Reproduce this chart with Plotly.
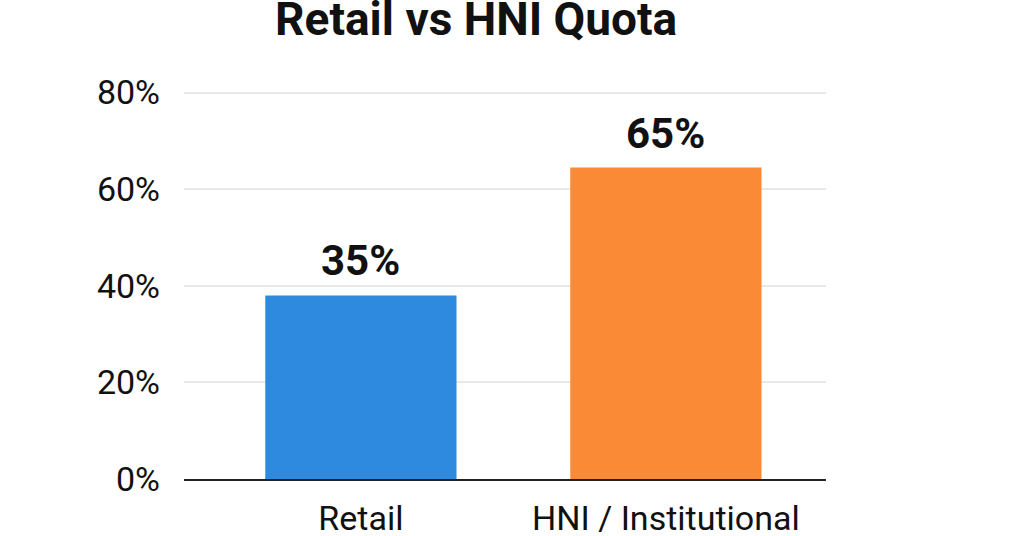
import plotly.graph_objects as go

# Chart data
categories = ["Retail", "HNI / Institutional"]
bar_heights = [38.0, 64.5]          # bar heights as drawn
bar_labels = ["35%", "65%"]         # labels shown above bars
bar_colors = ["#2d8ade", "#fb8a36"]
y_ticks = [0, 20, 40, 60, 80]
y_tick_text = ["0%", "20%", "40%", "60%", "80%"]

FONT = "Roboto, 'Helvetica Neue', Arial, sans-serif"

fig = go.Figure()

fig.add_trace(go.Bar(
    x=categories,
    y=bar_heights,
    width=0.627,
    marker=dict(color=bar_colors, line=dict(width=0)),
    hoverinfo="skip",
))

# Value labels above the bars
for cat, h, lab, shift in zip(categories, bar_heights, bar_labels, [8, 7]):
    fig.add_annotation(
        x=cat, y=h, text=f"<b>{lab}</b>",
        showarrow=False, yanchor="bottom", yshift=shift,
        font=dict(family=FONT, size=42, color="#111111"),
    )

fig.update_layout(
    width=1024,
    height=536,
    paper_bgcolor="white",
    plot_bgcolor="white",
    showlegend=False,
    margin=dict(l=184, r=198, t=80, b=57),
    title=dict(
        text="<b>Retail vs HNI Quota</b>",
        x=0.465, xref="container", xanchor="center",
        y=0.965, yref="container", yanchor="middle",
        font=dict(family=FONT, size=46, color="#111111"),
    ),
    xaxis=dict(
        range=[-0.58, 1.525],
        showgrid=False,
        showline=True, linecolor="#222222", linewidth=2,
        ticks="",
        automargin=False,
        tickfont=dict(family=FONT, size=34, color="#111111"),
        ticklabelstandoff=8,
    ),
    yaxis=dict(
        range=[0, 82.6],
        tickvals=y_ticks,
        ticktext=y_tick_text,
        showgrid=True, gridcolor="#e8e8e8", gridwidth=1.5,
        zeroline=False,
        showline=False,
        ticks="",
        automargin=False,
        tickfont=dict(family=FONT, size=34, color="#111111"),
        ticklabelstandoff=23,
    ),
)

# drop the default body margin so the figure fills the window
fig.write_html(
    "out.html",
    config={"displayModeBar": False},
    post_script="document.body.style.margin='0';",
)
